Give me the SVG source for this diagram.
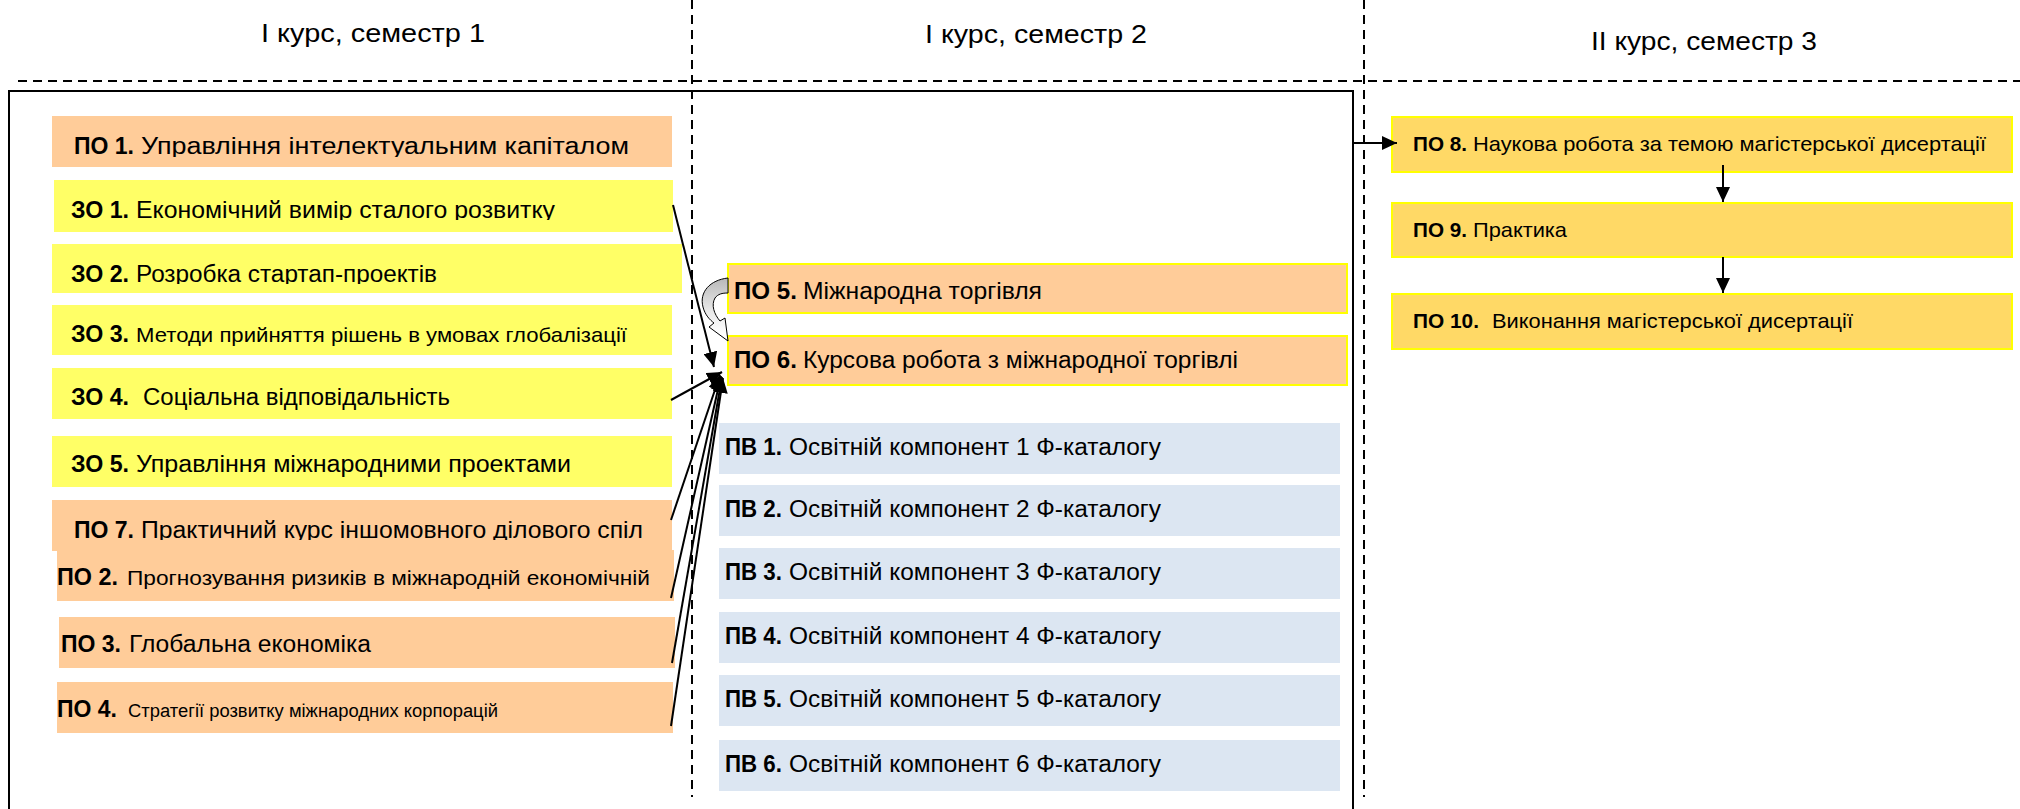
<svg xmlns="http://www.w3.org/2000/svg" width="2020" height="809" viewBox="0 0 2020 809">
<style>
.t{font-family:"Liberation Sans",Arial,sans-serif;fill:#000}
.b{font-weight:bold}
.f1{font-size:23px}
.f2{font-size:21px}
.f3{font-size:18px}
.ti{font-family:"Liberation Sans",Arial,sans-serif;font-size:26.5px;fill:#000}
.peach{fill:#FFCC99}
.yel{fill:#FFFF66}
.blue{fill:#DCE6F2}
.gold{fill:#FFD966;stroke:#FFFF00;stroke-width:2}
.pb{fill:#FFCC99;stroke:#FFFF00;stroke-width:2}
.dash{stroke:#000;stroke-width:2;stroke-dasharray:9 6;fill:none}
.ln{stroke:#000;stroke-width:2;fill:none}
</style>
<defs>
<marker id="ah" markerUnits="userSpaceOnUse" markerWidth="15" markerHeight="14" refX="15" refY="7" orient="auto">
<path d="M0,0 L15,7 L0,14 z" fill="#000"/>
</marker>
<linearGradient id="cg" gradientUnits="userSpaceOnUse" x1="0" y1="278" x2="0" y2="334">
<stop offset="0" stop-color="#B8B8B8"/>
<stop offset="0.55" stop-color="#E6E6E6"/>
<stop offset="1" stop-color="#FFFFFF"/>
</linearGradient>
<clipPath id="c1"><rect x="50" y="110" width="630" height="47"/></clipPath>
<clipPath id="c2"><rect x="50" y="175" width="630" height="45"/></clipPath>
<clipPath id="c3"><rect x="50" y="240" width="640" height="44"/></clipPath>
<clipPath id="c7"><rect x="50" y="495" width="630" height="45"/></clipPath>
</defs>

<g id="frame">
<line class="dash" x1="18" y1="81" x2="2020" y2="81"/>
<line class="dash" x1="692" y1="0" x2="692" y2="797"/>
<line class="dash" x1="1364" y1="0" x2="1364" y2="797"/>
<rect x="9" y="91" width="1344" height="740" fill="none" stroke="#000" stroke-width="2"/>
</g>

<g id="titles">
<text class="ti" x="261" y="42" textLength="224" lengthAdjust="spacingAndGlyphs">І курс, семестр 1</text>
<text class="ti" x="925" y="43" textLength="222" lengthAdjust="spacingAndGlyphs">І курс, семестр 2</text>
<text class="ti" x="1591" y="50" textLength="226" lengthAdjust="spacingAndGlyphs">ІІ курс, семестр 3</text>
</g>

<g id="po1">
<rect class="peach" x="52" y="116" width="620" height="51"/>
<g clip-path="url(#c1)">
<text class="t b f1" x="74" y="154" textLength="60" lengthAdjust="spacingAndGlyphs">ПО 1.</text>
<text class="t f1" x="141" y="154" textLength="488" lengthAdjust="spacingAndGlyphs">Управління інтелектуальним капіталом</text>
</g>
</g>

<g id="zo1">
<rect class="yel" x="54" y="180" width="619" height="52"/>
<g clip-path="url(#c2)">
<text class="t b f1" x="71" y="218" textLength="58" lengthAdjust="spacingAndGlyphs">ЗО 1.</text>
<text class="t f1" x="136" y="218" textLength="419" lengthAdjust="spacingAndGlyphs">Економічний вимір сталого розвитку</text>
</g>
</g>

<g id="zo2">
<rect class="yel" x="52" y="244" width="630" height="49"/>
<g clip-path="url(#c3)">
<text class="t b f1" x="71" y="282" textLength="58" lengthAdjust="spacingAndGlyphs">ЗО 2.</text>
<text class="t f1" x="136" y="282" textLength="301" lengthAdjust="spacingAndGlyphs">Розробка стартап-проектів</text>
</g>
</g>

<g id="zo3">
<rect class="yel" x="52" y="305" width="620" height="50"/>
<text class="t b f1" x="71" y="342" textLength="58" lengthAdjust="spacingAndGlyphs">ЗО 3.</text>
<text class="t f2" x="136" y="342" textLength="491" lengthAdjust="spacingAndGlyphs">Методи прийняття рішень в умовах глобалізації</text>
</g>

<g id="zo4">
<rect class="yel" x="52" y="368" width="620" height="51"/>
<text class="t b f1" x="71" y="405" textLength="58" lengthAdjust="spacingAndGlyphs">ЗО 4.</text>
<text class="t f1" x="143" y="405" textLength="307" lengthAdjust="spacingAndGlyphs">Соціальна відповідальність</text>
</g>

<g id="zo5">
<rect class="yel" x="52" y="436" width="620" height="51"/>
<text class="t b f1" x="71" y="472" textLength="58" lengthAdjust="spacingAndGlyphs">ЗО 5.</text>
<text class="t f1" x="136" y="472" textLength="435" lengthAdjust="spacingAndGlyphs">Управління міжнародними проектами</text>
</g>

<g id="po7">
<rect class="peach" x="52" y="500" width="620" height="51"/>
<g clip-path="url(#c7)">
<text class="t b f1" x="74" y="538" textLength="60" lengthAdjust="spacingAndGlyphs">ПО 7.</text>
<text class="t f1" x="141" y="538" textLength="502" lengthAdjust="spacingAndGlyphs">Практичний курс іншомовного ділового спіл</text>
</g>
</g>

<g id="po2">
<rect class="peach" x="57" y="550" width="617" height="51"/>
<text class="t b f1" x="57" y="585" textLength="61" lengthAdjust="spacingAndGlyphs">ПО 2.</text>
<text class="t f2" x="127" y="585" textLength="523" lengthAdjust="spacingAndGlyphs">Прогнозування ризиків в міжнародній економічній</text>
</g>

<g id="po3">
<rect class="peach" x="59" y="617" width="616" height="51"/>
<text class="t b f1" x="61" y="652" textLength="60" lengthAdjust="spacingAndGlyphs">ПО 3.</text>
<text class="t f1" x="129" y="652" textLength="242" lengthAdjust="spacingAndGlyphs">Глобальна економіка</text>
</g>

<g id="po4">
<rect class="peach" x="57" y="682" width="616" height="51"/>
<text class="t b f1" x="57" y="717" textLength="60" lengthAdjust="spacingAndGlyphs">ПО 4.</text>
<text class="t f3" x="128" y="717" textLength="370" lengthAdjust="spacingAndGlyphs">Стратегії розвитку міжнародних корпорацій</text>
</g>

<g id="po5">
<rect class="pb" x="728" y="264" width="619" height="49"/>
<text class="t b f1" x="734" y="299" textLength="63" lengthAdjust="spacingAndGlyphs">ПО 5.</text>
<text class="t f1" x="803" y="299" textLength="239" lengthAdjust="spacingAndGlyphs">Міжнародна торгівля</text>
</g>

<g id="po6">
<rect class="pb" x="728" y="336" width="619" height="49"/>
<text class="t b f1" x="734" y="368" textLength="63" lengthAdjust="spacingAndGlyphs">ПО 6.</text>
<text class="t f1" x="803" y="368" textLength="435" lengthAdjust="spacingAndGlyphs">Курсова робота з міжнародної торгівлі</text>
</g>

<g id="pv1">
<rect class="blue" x="719" y="423" width="621" height="51"/>
<text class="t b f1" x="725" y="455" textLength="57" lengthAdjust="spacingAndGlyphs">ПВ 1.</text>
<text class="t f1" x="789" y="455" textLength="372" lengthAdjust="spacingAndGlyphs">Освітній компонент 1 Ф-каталогу</text>
</g>
<g id="pv2">
<rect class="blue" x="719" y="485" width="621" height="51"/>
<text class="t b f1" x="725" y="517" textLength="57" lengthAdjust="spacingAndGlyphs">ПВ 2.</text>
<text class="t f1" x="789" y="517" textLength="372" lengthAdjust="spacingAndGlyphs">Освітній компонент 2 Ф-каталогу</text>
</g>
<g id="pv3">
<rect class="blue" x="719" y="548" width="621" height="51"/>
<text class="t b f1" x="725" y="580" textLength="57" lengthAdjust="spacingAndGlyphs">ПВ 3.</text>
<text class="t f1" x="789" y="580" textLength="372" lengthAdjust="spacingAndGlyphs">Освітній компонент 3 Ф-каталогу</text>
</g>
<g id="pv4">
<rect class="blue" x="719" y="612" width="621" height="51"/>
<text class="t b f1" x="725" y="644" textLength="57" lengthAdjust="spacingAndGlyphs">ПВ 4.</text>
<text class="t f1" x="789" y="644" textLength="372" lengthAdjust="spacingAndGlyphs">Освітній компонент 4 Ф-каталогу</text>
</g>
<g id="pv5">
<rect class="blue" x="719" y="675" width="621" height="51"/>
<text class="t b f1" x="725" y="707" textLength="57" lengthAdjust="spacingAndGlyphs">ПВ 5.</text>
<text class="t f1" x="789" y="707" textLength="372" lengthAdjust="spacingAndGlyphs">Освітній компонент 5 Ф-каталогу</text>
</g>
<g id="pv6">
<rect class="blue" x="719" y="740" width="621" height="51"/>
<text class="t b f1" x="725" y="772" textLength="57" lengthAdjust="spacingAndGlyphs">ПВ 6.</text>
<text class="t f1" x="789" y="772" textLength="372" lengthAdjust="spacingAndGlyphs">Освітній компонент 6 Ф-каталогу</text>
</g>

<g id="po8">
<rect class="gold" x="1392" y="117" width="620" height="55"/>
<text class="t b f2" x="1413" y="151" textLength="54" lengthAdjust="spacingAndGlyphs">ПО 8.</text>
<text class="t f2" x="1473" y="151" textLength="513" lengthAdjust="spacingAndGlyphs">Наукова робота за темою магістерської дисертації</text>
</g>
<g id="po9">
<rect class="gold" x="1392" y="203" width="620" height="54"/>
<text class="t b f2" x="1413" y="237" textLength="54" lengthAdjust="spacingAndGlyphs">ПО 9.</text>
<text class="t f2" x="1473" y="237" textLength="94" lengthAdjust="spacingAndGlyphs">Практика</text>
</g>
<g id="po10">
<rect class="gold" x="1392" y="294" width="620" height="55"/>
<text class="t b f2" x="1413" y="328" textLength="66" lengthAdjust="spacingAndGlyphs">ПО 10.</text>
<text class="t f2" x="1492" y="328" textLength="361" lengthAdjust="spacingAndGlyphs">Виконання магістерської дисертації</text>
</g>

<g id="connectors">
<line class="ln" x1="673" y1="205" x2="714" y2="367" marker-end="url(#ah)"/>
<line class="ln" x1="671" y1="400" x2="722" y2="372" marker-end="url(#ah)"/>
<line class="ln" x1="671" y1="520" x2="720" y2="375" marker-end="url(#ah)"/>
<line class="ln" x1="671" y1="598" x2="721" y2="376" marker-end="url(#ah)"/>
<line class="ln" x1="672" y1="663" x2="722" y2="377" marker-end="url(#ah)"/>
<line class="ln" x1="671" y1="726" x2="723" y2="378" marker-end="url(#ah)"/>
<path d="M728,278 C710,280 699,292 703,307 C705,315 710,320 714,323 L709,327 L728,341 L725,318 L720,321 C714,314 711,305 715,298 C718,294 722,293 728,293 Z" fill="url(#cg)" stroke="#000" stroke-width="1"/>
<line class="ln" x1="1353" y1="143" x2="1397" y2="143" marker-end="url(#ah)"/>
<line class="ln" x1="1723" y1="165" x2="1723" y2="202" marker-end="url(#ah)"/>
<line class="ln" x1="1723" y1="257" x2="1723" y2="293" marker-end="url(#ah)"/>
</g>
</svg>
